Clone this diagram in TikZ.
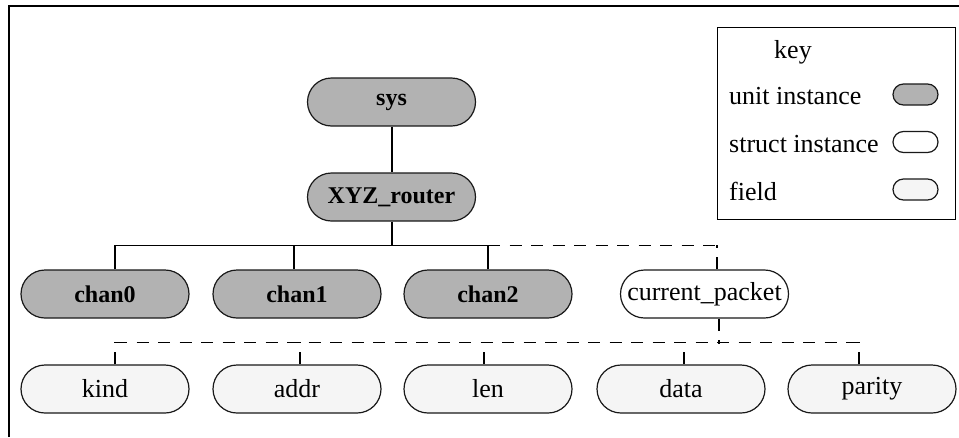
\documentclass[tikz,border=0pt]{standalone}
\usepackage{fontspec}
\setmainfont{Liberation Serif}

\begin{document}
\begin{tikzpicture}[x=1pt,y=-1pt,
		pill/.style={draw=black!90, line width=1.2pt, rounded corners=24pt,
			minimum width=168pt, minimum height=48pt, inner sep=1pt,
			font=\fontsize{26}{30}\selectfont},
		unitinst/.style={pill, fill=black!30, font=\fontsize{24}{28}\selectfont\bfseries},
		structinst/.style={pill, fill=white},
		fieldinst/.style={pill, fill=black!4},
		keyoval/.style={draw=black!90, line width=1.2pt, rounded corners=10.5pt,
			minimum width=45pt, minimum height=21pt, inner sep=0pt},
		keytext/.style={anchor=base west, inner sep=0pt, font=\fontsize{26}{30}\selectfont},
		solidbus/.style={line width=1.3pt},
		dashbus/.style={line width=1.3pt, dash pattern=on 12pt off 9.5pt}]
		\useasboundingbox (0,0) rectangle (959,437);

		% Outer frame
		\draw[line width=2pt] (9,437) -- (9,6) -- (959,6);

		% Unit tree
		\node[unitinst] (sys) at (391.5,102) {sys};
		\node[unitinst] (router) at (391.5,197) {XYZ\_router};
		\node[unitinst] (chan0) at (105,294) {chan0};
		\node[unitinst] (chan1) at (297,294) {chan1};
		\node[unitinst] (chan2) at (488,294) {chan2};
		\node[structinst] (packet) at (704.5,294) {current\_packet};

		% Fields of current_packet
		\node[fieldinst] (kind) at (105,389) {kind};
		\node[fieldinst] (addr) at (297,389) {addr};
		\node[fieldinst] (len) at (488,389) {len};
		\node[fieldinst] (data) at (681,389) {data};
		\node[fieldinst] (parity) at (872,389) {parity};

		% Connectors
		% -- sys to router
		\draw[line width=2pt] (sys) -- (router);

		% -- router to channels
		\draw[solidbus] ([xshift=10pt]chan0.north) -- ++(0,-24) coordinate (chan0-top);
		\draw[solidbus] ([xshift=-3pt]chan1.north) -- ++(0,-24) coordinate (chan1-top);
		\draw[solidbus] (chan2.north) -- ++(0,-24) coordinate (chan2-top);
		\draw[dashbus] ([xshift=12.5pt]packet.north) -- ++(0,-24) coordinate (packet-top);
		\draw[solidbus] (chan0-top) -- (chan2-top);
		\draw[dashbus] (chan2-top) -- (packet-top);
		\draw[line width=2pt] (router.south) -- (router.south |- chan0-top);

		% -- packet to fields
		\draw[dashbus] ([xshift=14.5pt]packet.south) -- ++(0,25) coordinate (packet-bot);
		\foreach \fld/\dx in {kind/10, addr/3, len/-4, data/3, parity/-13}
			\draw[dashbus] ([xshift=\dx pt]\fld.north) -- ++(0,-22) coordinate (\fld-top);
		\draw[dashbus] (kind-top) -- (parity-top);

		% Key
		\draw[line width=1pt] (717,27) rectangle (955,219);
		\node[anchor=base, inner sep=0pt, font=\fontsize{26}{30}\selectfont] (keytitle) at (793,58) {key};
		\node[keytext] (keyunit) at (729,104) {unit instance};
		\node[keytext] (keystruct) at (729,152) {struct instance};
		\node[keytext] (keyfield) at (729,200) {field};
		\node[keyoval, fill=black!30] (ovunit) at (915.5,94.5) {};
		\node[keyoval, fill=white] (ovstruct) at (915.5,142) {};
		\node[keyoval, fill=black!4] (ovfield) at (915.5,189.5) {};
	\end{tikzpicture}
\end{document}
